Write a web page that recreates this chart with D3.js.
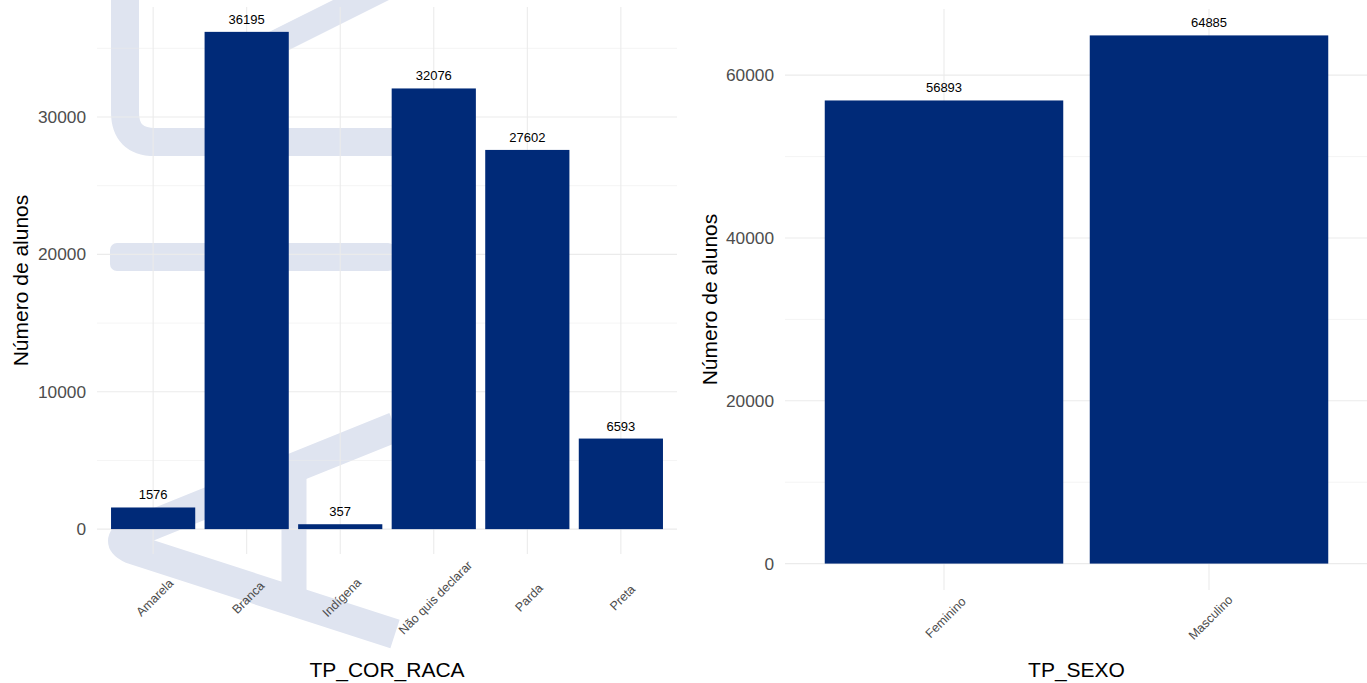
<!DOCTYPE html>
<html>
<head>
<meta charset="utf-8">
<script src="https://cdn.jsdelivr.net/npm/d3@7"></script>
<style>
  html, body { margin: 0; padding: 0; background: #ffffff; }
  svg { display: block; font-family: "Liberation Sans", Arial, Helvetica, sans-serif; }
</style>
</head>
<body>
<svg id="chart" width="1367" height="683"></svg>
<script>
// ---- data ----
const racaCategories = ["Amarela", "Branca", "Indígena", "Não quis declarar", "Parda", "Preta"];
const racaValues = [1576, 36195, 357, 32076, 27602, 6593];
const racaTicks = [0, 10000, 20000, 30000];
const racaMinorTicks = [5000, 15000, 25000, 35000];

const sexoCategories = ["Feminino", "Masculino"];
const sexoValues = [56893, 64885];
const sexoTicks = [0, 20000, 40000, 60000];
const sexoMinorTicks = [10000, 30000, 50000];

const yTitle = "Número de alunos";
const racaTitle = "TP_COR_RACA";
const sexoTitle = "TP_SEXO";

// ---- style ----
const barColor = "#002a78";
const gridColor = "#ebebeb";
const tickColor = "#4d4d4d";
const wmColor = "#dfe4f0";

const svg = d3.select("#chart");

function panel(cfg) {
  const g = svg.append("g");
  const x = d3.scaleBand().domain(cfg.categories)
    .range([cfg.left, cfg.right]).paddingInner(0.1).paddingOuter(0.15);
  const maxV = d3.max(cfg.values);
  const pad = maxV * 0.05;
  const y = d3.scaleLinear().domain([-pad, maxV + pad]).range([cfg.bottom, cfg.top]);

  if (cfg.watermark) cfg.watermark(g);

  // minor grid
  g.append("g").selectAll("line").data(cfg.minor).join("line")
    .attr("x1", cfg.left).attr("x2", cfg.right)
    .attr("y1", d => y(d)).attr("y2", d => y(d))
    .attr("stroke", gridColor).attr("stroke-width", 0.55);
  // major grid horizontal
  g.append("g").selectAll("line").data(cfg.ticks).join("line")
    .attr("x1", cfg.left).attr("x2", cfg.right)
    .attr("y1", d => y(d)).attr("y2", d => y(d))
    .attr("stroke", gridColor).attr("stroke-width", 1.1);
  // major grid vertical
  g.append("g").selectAll("line").data(cfg.categories).join("line")
    .attr("x1", d => x(d) + x.bandwidth() / 2).attr("x2", d => x(d) + x.bandwidth() / 2)
    .attr("y1", cfg.top).attr("y2", cfg.bottom)
    .attr("stroke", gridColor).attr("stroke-width", 1.1);

  // bars
  const data = cfg.categories.map((c, i) => ({ c, v: cfg.values[i] }));
  g.append("g").selectAll("rect").data(data).join("rect")
    .attr("x", d => x(d.c)).attr("width", x.bandwidth())
    .attr("y", d => y(d.v)).attr("height", d => y(0) - y(d.v))
    .attr("fill", barColor);

  // value labels
  g.append("g").selectAll("text").data(data).join("text")
    .attr("x", d => x(d.c) + x.bandwidth() / 2)
    .attr("y", d => y(d.v) - 8)
    .attr("text-anchor", "middle")
    .attr("font-size", "13px").attr("fill", "#000")
    .text(d => d.v);

  // y axis via d3.axisLeft
  const yAxis = g.append("g").attr("transform", `translate(${cfg.left},0)`)
    .call(d3.axisLeft(y).tickValues(cfg.ticks).tickSize(0).tickPadding(11).tickFormat(d3.format("d")));
  yAxis.select(".domain").remove();
  yAxis.selectAll("text").attr("font-size", "17.3px").attr("fill", tickColor)
    .attr("font-family", "Liberation Sans, Arial, sans-serif");

  // x axis labels rotated 45 deg
  const xAxis = g.append("g").attr("transform", `translate(0,${cfg.bottom})`)
    .call(d3.axisBottom(x).tickSize(0));
  xAxis.select(".domain").remove();
  xAxis.selectAll(".tick text")
    .attr("font-size", "12.5px").attr("fill", tickColor)
    .attr("font-family", "Liberation Sans, Arial, sans-serif")
    .attr("text-anchor", "middle")
    .attr("y", 0).attr("dy", "0.35em")
    .attr("transform", `translate(1.5,${cfg.labelCenter}) rotate(-45)`);

  // axis titles
  g.append("text")
    .attr("x", (cfg.left + cfg.right) / 2).attr("y", 677)
    .attr("text-anchor", "middle").attr("font-size", "21px").attr("fill", "#000")
    .text(cfg.xTitle);
  g.append("text")
    .attr("transform", `translate(${cfg.yTitleX},${(cfg.top + cfg.bottom) / 2}) rotate(-90)`)
    .attr("text-anchor", "middle").attr("font-size", "21px").attr("fill", "#000")
    .text(yTitle);
}

function watermark(g) {
  const wm = g.append("g").attr("fill", "none").attr("stroke", wmColor)
    .attr("stroke-width", 28).attr("stroke-linejoin", "round").attr("stroke-linecap", "butt");
  // top "C" shape
  wm.append("path").attr("d", "M125,-10 L125,112 Q125,142 155,142 L392,142");
  // top diagonal
  wm.append("path").attr("stroke-width", 25).attr("d", "M215,73 L405,-22");
  // middle bar
  g.append("rect").attr("x", 110).attr("y", 243).attr("width", 285).attr("height", 28)
    .attr("rx", 7).attr("fill", wmColor);
  // lower "<" shape
  wm.append("path").attr("stroke-width", 30).attr("stroke-linejoin", "round")
    .attr("d", "M395,427 L132,533 Q114,541 132,549 L395,634");
  // vertical stroke
  wm.append("path").attr("stroke-width", 25).attr("d", "M294,466 L294,598");
}

panel({
  categories: racaCategories, values: racaValues, ticks: racaTicks, minor: racaMinorTicks,
  left: 97, right: 677, top: 7, bottom: 554, labelCenter: 43.5,
  yTitleX: 28, xTitle: racaTitle, watermark: watermark
});

panel({
  categories: sexoCategories, values: sexoValues, ticks: sexoTicks, minor: sexoMinorTicks,
  left: 785, right: 1368, top: 9, bottom: 590, labelCenter: 27.5,
  yTitleX: 716.5, xTitle: sexoTitle
});
</script>
</body>
</html>
